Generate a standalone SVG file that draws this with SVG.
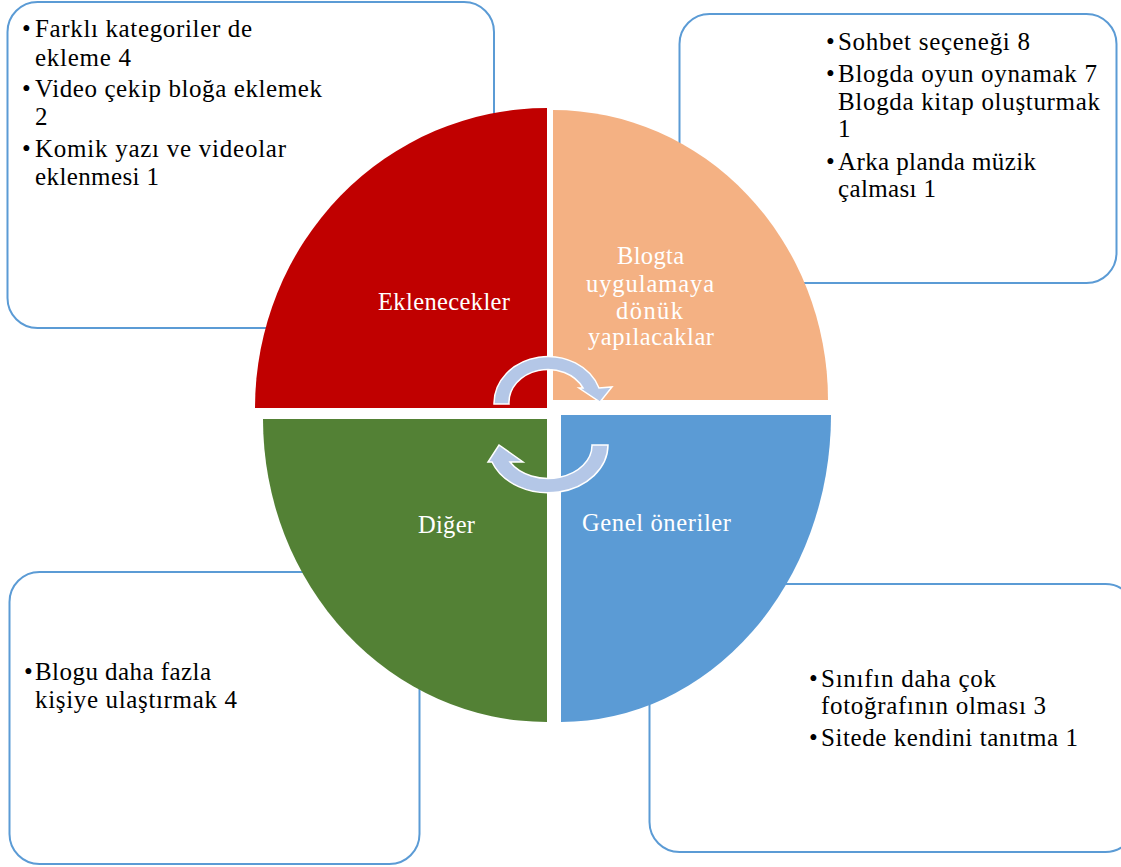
<svg xmlns="http://www.w3.org/2000/svg" width="1121" height="867" viewBox="0 0 1121 867">
<style>
.box{fill:#FFFFFF;stroke:#5B9BD5;stroke-width:2}
.t{font-family:"Liberation Serif","Times New Roman",serif;font-size:25px;fill:#000000}
.lbl{font-family:"Liberation Serif","Times New Roman",serif;font-size:24.5px;fill:#FFFFFF;text-anchor:start}
.arr{fill:#B4C7E7;stroke:#FFFFFF;stroke-width:1.5;stroke-linejoin:miter}
</style>
<rect width="1121" height="867" fill="#FFFFFF"/>
<g id="box-tl">
<rect class="box" x="7.5" y="2" width="486.5" height="326" rx="30"/>
<text class="t" x="22" y="37">•</text>
<text class="t" x="35" y="37" textLength="217" lengthAdjust="spacing">Farklı  kategoriler de</text>
<text class="t" x="35" y="66" textLength="96" lengthAdjust="spacing">ekleme  4</text>
<text class="t" x="22" y="97">•</text>
<text class="t" x="35" y="97" textLength="287" lengthAdjust="spacing">Video  çekip bloğa eklemek</text>
<text class="t" x="35" y="125">2</text>
<text class="t" x="22" y="157">•</text>
<text class="t" x="35" y="157" textLength="251" lengthAdjust="spacing">Komik  yazı ve videolar</text>
<text class="t" x="35" y="185" textLength="124" lengthAdjust="spacing">eklenmesi 1</text>
</g>
<g id="box-tr">
<rect class="box" x="679.5" y="14" width="437" height="269" rx="30"/>
<text class="t" x="826" y="50">•</text>
<text class="t" x="838" y="50" textLength="192" lengthAdjust="spacing">Sohbet seçeneği 8</text>
<text class="t" x="826" y="82">•</text>
<text class="t" x="838" y="82" textLength="259" lengthAdjust="spacing">Blogda oyun oynamak 7</text>
<text class="t" x="838" y="110" textLength="262" lengthAdjust="spacing">Blogda kitap oluşturmak</text>
<text class="t" x="838" y="137">1</text>
<text class="t" x="826" y="170">•</text>
<text class="t" x="838" y="170" textLength="198" lengthAdjust="spacing">Arka planda müzik</text>
<text class="t" x="838" y="197" textLength="98" lengthAdjust="spacing">çalması 1</text>
</g>
<g id="box-bl">
<rect class="box" x="9.5" y="572" width="410" height="292" rx="30"/>
<text class="t" x="24" y="680">•</text>
<text class="t" x="35" y="680" textLength="176" lengthAdjust="spacing">Blogu daha fazla</text>
<text class="t" x="35" y="708" textLength="202" lengthAdjust="spacing">kişiye ulaştırmak  4</text>
</g>
<g id="box-br">
<rect class="box" x="649.5" y="584" width="486" height="268" rx="30"/>
<text class="t" x="809" y="687">•</text>
<text class="t" x="821" y="687" textLength="175" lengthAdjust="spacing">Sınıfın  daha çok</text>
<text class="t" x="821" y="714" textLength="225" lengthAdjust="spacing">fotoğrafının olması 3</text>
<text class="t" x="809" y="746">•</text>
<text class="t" x="821" y="746" textLength="257" lengthAdjust="spacing">Sitede kendini tanıtma 1</text>
</g>
<g id="q-eklenecekler">
<path d="M547 408 L255 408 A292 300 0 0 1 547 108 Z" fill="#C00000"/>
<text class="lbl" x="378" y="310" textLength="132" lengthAdjust="spacing">Eklenecekler</text>
</g>
<g id="q-blogta">
<path d="M553 400 L553 110 A275 290 0 0 1 828 400 Z" fill="#F4B183"/>
<text class="lbl" x="617" y="264" textLength="67" lengthAdjust="spacing">Blogta</text>
<text class="lbl" x="586" y="292" textLength="128" lengthAdjust="spacing">uygulamaya</text>
<text class="lbl" x="616" y="319" textLength="67" lengthAdjust="spacing">dönük</text>
<text class="lbl" x="588" y="345" textLength="126" lengthAdjust="spacing">yapılacaklar</text>
</g>
<g id="q-diger">
<path d="M547 419 L547 722 A284 303 0 0 1 263 419 Z" fill="#538135"/>
<text class="lbl" x="418" y="533" textLength="57" lengthAdjust="spacing">Diğer</text>
</g>
<g id="q-genel">
<path d="M561 415 L831 415 A270 307 0 0 1 561 722 Z" fill="#5B9BD5"/>
<text class="lbl" x="582" y="531" textLength="149" lengthAdjust="spacing">Genel öneriler</text>
</g>
<g id="connectors">
<path class="arr" d="M494 404 A54 47 0 0 1 599 388 L612 387 L600 402 L579 388 L583 388 A39 33 0 0 0 509 404 Z"/>
<path class="arr" d="M608 445 A60 48 0 0 1 492 462 L488 462 L499 445 L523 462 L510 462 A44 33 0 0 0 592 445 Z"/>
</g>
</svg>
